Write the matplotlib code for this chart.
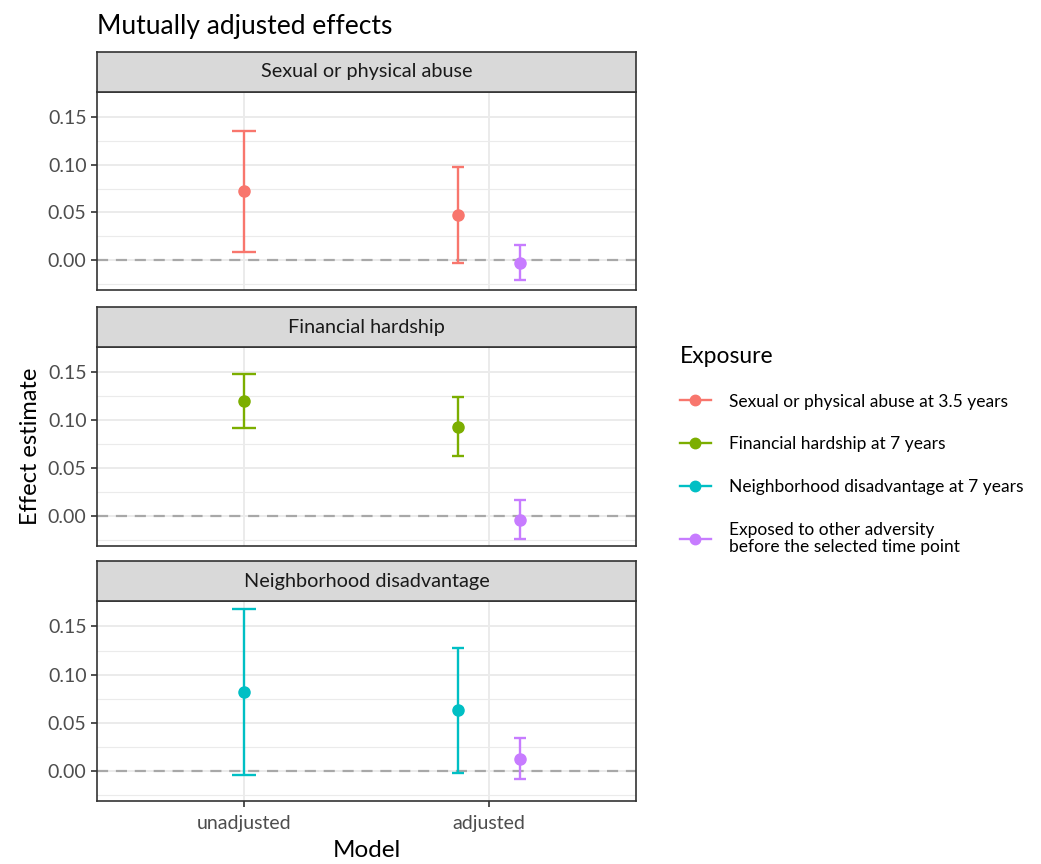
import matplotlib
matplotlib.use('Agg')
import matplotlib.pyplot as plt
from matplotlib.lines import Line2D
import numpy as np

plt.rcParams['font.family'] = ['Lato', 'DejaVu Sans']

#%% data
panels = ['Sexual or physical abuse', 'Financial hardship', 'Neighborhood disadvantage']
models = ['unadjusted', 'adjusted']
exposures = ['Sexual or physical abuse at 3.5 years',
             'Financial hardship at 7 years',
             'Neighborhood disadvantage at 7 years',
             'Exposed to other adversity\nbefore the selected time point']
colors = ['#F8766D', '#7CAE00', '#00BFC4', '#C77CFF']

# main exposure, unadjusted model
est_unadj = [0.072, 0.120, 0.082]
lo_unadj = [0.008, 0.092, -0.004]
hi_unadj = [0.136, 0.148, 0.168]
# main exposure, adjusted model
est_adj = [0.047, 0.093, 0.063]
lo_adj = [-0.003, 0.063, -0.002]
hi_adj = [0.098, 0.124, 0.128]
# other adversity, adjusted model
est_oth = [-0.003, -0.004, 0.012]
lo_oth = [-0.021, -0.024, -0.009]
hi_oth = [0.016, 0.017, 0.034]

yticks = [0.00, 0.05, 0.10, 0.15]
yminor = [-0.025, 0.025, 0.075, 0.125]

#%% figure
W, H = 1041, 864
fig = plt.figure(figsize=(W/100, H/100), dpi=100)

left = 97/W
width = (636-97)/W
panel_px = [(92, 290), (347, 546), (601, 801)]
strip_h = 40
dodge = 0.125

def ebar(ax, x, y, lo, hi, c, cap):
    ax.errorbar([x], [y], yerr=[[y-lo], [hi-y]], fmt='o', color=c, ms=8,
                elinewidth=1.7, capsize=cap, capthick=1.7, zorder=5)

for i, (top, bot) in enumerate(panel_px):
    ax = fig.add_axes([left, 1-bot/H, width, (bot-top)/H])
    ax.set_xlim(0.4, 2.6)
    ax.set_ylim(-0.0315, 0.1765)
    for y in yticks:
        ax.axhline(y, color='#EBEBEB', lw=1.4, zorder=0)
    for y in yminor:
        ax.axhline(y, color='#EBEBEB', lw=0.8, zorder=0)
    for x in [1, 2]:
        ax.axvline(x, color='#EBEBEB', lw=1.4, zorder=0)
    ax.axhline(0, color='#A8A8A8', lw=1.6, ls=(0, (5, 3.5)), zorder=1)

    c = colors[i]
    ebar(ax, 1, est_unadj[i], lo_unadj[i], hi_unadj[i], c, 8.8)
    ebar(ax, 2-dodge, est_adj[i], lo_adj[i], hi_adj[i], c, 4.3)
    ebar(ax, 2+dodge, est_oth[i], lo_oth[i], hi_oth[i], colors[3], 4.3)

    ax.set_yticks(yticks)
    ax.set_yticklabels(['%.2f' % y for y in yticks], fontsize=14, color='#4D4D4D')
    ax.set_xticks([1, 2])
    ax.tick_params(axis='both', color='#333333', width=1.2, length=4)
    if i == 2:
        ax.set_xticklabels(models, fontsize=14, color='#4D4D4D')
        ax.tick_params(axis='x', pad=6)
        ax.set_xlabel('Model', fontsize=17.5, labelpad=6)
    else:
        ax.tick_params(axis='x', length=0, labelbottom=False)
    if i == 1:
        ax.set_ylabel('Effect estimate', fontsize=17, labelpad=5)
    for s in ax.spines.values():
        s.set_color('#333333')
        s.set_linewidth(1.2)

    # strip on top
    sax = fig.add_axes([left, 1-top/H, width, strip_h/H])
    sax.set_facecolor('#D9D9D9')
    sax.set_xticks([])
    sax.set_yticks([])
    for s in sax.spines.values():
        s.set_color('#333333')
        s.set_linewidth(1.2)
    sax.text(0.5, 0.5, panels[i], ha='center', va='center', fontsize=14.3,
             color='#1A1A1A', transform=sax.transAxes)

fig.text(97/W, 1-34/H, 'Mutually adjusted effects', fontsize=19, ha='left', va='baseline')

handles = [Line2D([], [], color=c, marker='o', ms=7.5, lw=1.7) for c in colors]
leg = fig.legend(handles, exposures, loc='upper left', bbox_to_anchor=(664/W, 1-330/H),
                 frameon=False, fontsize=12.5, title='Exposure', title_fontsize=16.5,
                 alignment='left', handlelength=1.8, handletextpad=1.05,
                 labelspacing=1.55)
for t in leg.get_texts():
    t.set_linespacing(1.05)

fig.savefig('out.png', dpi=100)
